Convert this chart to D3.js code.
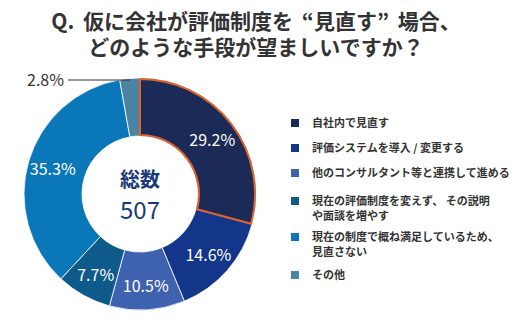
<!DOCTYPE html>
<html><head><meta charset="utf-8">
<script src="https://cdn.jsdelivr.net/npm/d3@7/dist/d3.min.js"></script>
<style>
body{margin:0;background:#fff;}
svg{display:block;}
text{font-family:"Noto Sans CJK JP","Noto Sans",sans-serif;}
</style></head><body>
<svg id="c" width="512" height="328"></svg>
<script>
const titleLines = ["Q. 仮に会社が評価制度を “見直す” 場合、", "どのような手段が望ましいですか？"];
const categories = [
  ["自社内で見直す"],
  ["評価システムを導入 / 変更する"],
  ["他のコンサルタント等と連携して進める"],
  ["現在の評価制度を変えず、 その説明", "や面談を増やす"],
  ["現在の制度で概ね満足しているため、", "見直さない"],
  ["その他"]
];
const values = [29.2, 14.6, 10.5, 7.7, 35.3, 2.8];
const colors = ["#1b2a57", "#13358a", "#3e62b0", "#0d5a8b", "#0a77b8", "#4b84a3"];
const totalLabel = "総数";
const totalValue = "507";

const svg = d3.select("#c");
const cx = 140, cy = 194, R = 116, r0 = 58;
const numFont = "'Liberation Sans', Arial, sans-serif";

// title
svg.selectAll("text.title").data(titleLines).join("text")
  .attr("class","title")
  .attr("x", 256).attr("y", (d,i)=> 29 + i*26)
  .attr("text-anchor","middle")
  .attr("font-size", 21).attr("font-weight","bold").attr("fill","#333")
  .attr("word-spacing", (d,i)=> i===0 ? 4 : 0)
  .text(d=>d);

const pie = d3.pie().sort(null).value(d=>d)(values);
const arc = d3.arc().innerRadius(r0).outerRadius(R);
const labelArc = d3.arc().innerRadius(91).outerRadius(91);
const g = svg.append("g").attr("transform",`translate(${cx},${cy})`);

g.selectAll("path.s").data(pie).join("path")
  .attr("class","s")
  .attr("d", arc)
  .attr("fill",(d,i)=>colors[i])
  .attr("stroke","#fff").attr("stroke-width",0.8);

// highlight first slice
g.append("path").datum(pie[0])
  .attr("d", d3.arc().innerRadius(r0+1).outerRadius(R-1))
  .attr("fill","none").attr("stroke","#e0632b").attr("stroke-width",2);

// labels (all except last)
g.selectAll("text.pl").data(pie.slice(0,5)).join("text")
  .attr("class","pl")
  .attr("transform", d=>`translate(${labelArc.centroid(d)})`)
  .attr("text-anchor","middle").attr("dy","0.45em")
  .attr("font-family",numFont)
  .attr("font-size",16).attr("fill","#fff")
  .text(d=>d.data.toFixed(1)+"%");

// last slice label with leader line
const last = pie[5];
const ang = (last.startAngle + last.endAngle)/2;
g.append("line")
  .attr("x1", -72).attr("x2", Math.sin(ang)*R).attr("y1", -R+2).attr("y2", -R+2)
  .attr("stroke","#333").attr("stroke-width",1);
g.append("text")
  .attr("x", -76).attr("y", -R+2).attr("dy","0.36em")
  .attr("text-anchor","end")
  .attr("font-family",numFont)
  .attr("font-size",16).attr("fill","#333")
  .text(last.data.toFixed(1)+"%");

// center
g.append("text").attr("y",-14).attr("dy","0.34em").attr("text-anchor","middle")
  .attr("font-size",20).attr("font-weight","bold").attr("fill","#1b3a78").text(totalLabel);
g.append("text").attr("y",16).attr("dy","0.36em").attr("text-anchor","middle")
  .attr("font-family",numFont)
  .attr("font-size",24).attr("fill","#1b3a78").text(totalValue);

// legend
const rowY = [123, 148, 173, 201, 237, 275];
const leg = svg.append("g");
const items = leg.selectAll("g").data(categories).join("g")
  .attr("transform",(d,i)=>`translate(291,${rowY[i]})`);
items.append("rect").attr("x",0).attr("y",-4).attr("width",8).attr("height",8)
  .attr("fill",(d,i)=>colors[i]);
items.each(function(d){
  d3.select(this).selectAll("text").data(d).join("text")
    .attr("x",21).attr("y",(t,j)=>j*15).attr("dy","0.36em")
    .attr("font-size",11).attr("font-weight","bold").attr("fill","#333")
    .text(t=>t);
});
</script>
</body></html>
